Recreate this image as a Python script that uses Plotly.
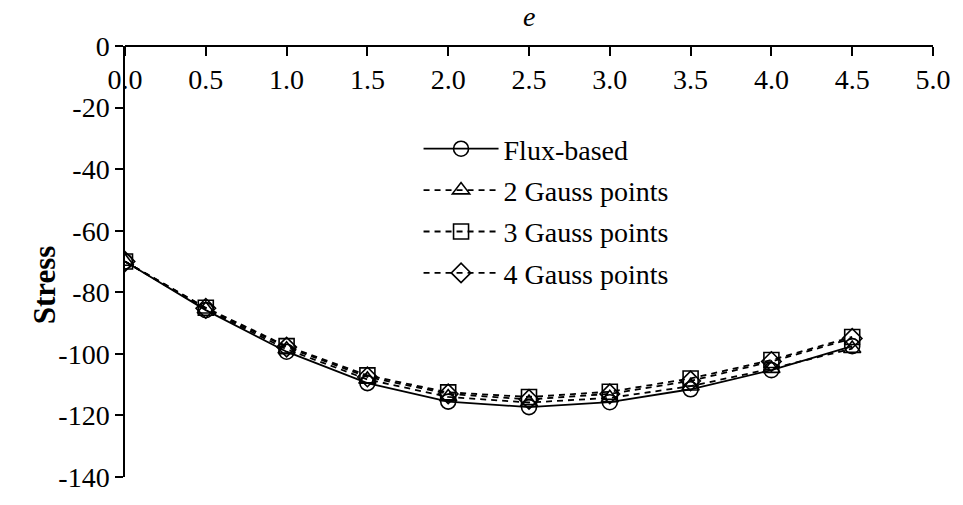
import plotly.graph_objects as go

# Eccentricity values and computed stresses
e_vals = [0.0, 0.5, 1.0, 1.5, 2.0, 2.5, 3.0, 3.5, 4.0, 4.5]
flux_based = [-70.0, -85.8, -99.3, -109.5, -115.5, -117.3, -115.7, -111.5, -105.3, -97.5]
gauss_2 = [-70.0, -85.5, -98.5, -108.3, -114.0, -115.8, -114.3, -110.5, -104.8, -98.3]
gauss_3 = [-70.0, -85.0, -97.5, -107.0, -112.5, -114.0, -112.3, -108.0, -102.0, -94.5]
gauss_4 = [-70.0, -85.2, -97.8, -107.5, -113.0, -114.8, -113.0, -108.8, -102.5, -95.0]

x_ticks = [0.0, 0.5, 1.0, 1.5, 2.0, 2.5, 3.0, 3.5, 4.0, 4.5, 5.0]
y_ticks = [0, -20, -40, -60, -80, -100, -120, -140]

FONT = "Liberation Serif, Times New Roman, serif"
FS = 28
series = [
    ("Flux-based", flux_based, "circle-open", "solid"),
    ("2 Gauss points", gauss_2, "triangle-up-open", "6px,5px"),
    ("3 Gauss points", gauss_3, "square-open", "6px,5px"),
    ("4 Gauss points", gauss_4, "diamond-open", "6px,5px"),
]

fig = go.Figure()
for i, (name, vals, sym, dash) in enumerate(series):
    fig.add_trace(go.Scatter(
        x=e_vals, y=vals, name=name, mode="lines+markers",
        legendgroup=f"g{i}",
        line=dict(color="black", width=1.8, dash=dash),
        marker=dict(symbol=sym, size=15, color="black",
                    line=dict(color="black", width=1.6)),
    ))

W, H = 963, 505
l, r, t, b = 125, 26, 46, 17
pw, ph = W - l - r, H - t - b

fig.update_layout(
    width=W, height=H,
    margin=dict(l=l, r=r, t=t, b=b),
    paper_bgcolor="white", plot_bgcolor="white",
    font=dict(family=FONT, size=FS, color="black"),
    showlegend=True,
    legend=dict(x=(420 - l) / pw, y=1 - (126 - t) / ph,
                xanchor="left", yanchor="top",
                bgcolor="rgba(0,0,0,0)", tracegroupgap=2,
                traceorder="grouped", itemwidth=75,
                font=dict(family=FONT, size=FS, color="black")),
    # x axis runs along the top edge (stress = 0), labels hanging below it
    xaxis=dict(range=[0, 5], tickvals=x_ticks,
               ticktext=[f"{v:.1f}" for v in x_ticks],
               side="bottom", anchor="free", position=1,
               ticks="outside", ticklen=9, tickcolor="black", tickwidth=1.5,
               showline=True, linecolor="black", linewidth=1.5,
               showgrid=False, zeroline=False),
    yaxis=dict(range=[-140, 0], tickvals=y_ticks,
               ticktext=[str(v) for v in y_ticks],
               ticks="outside", ticklen=8, tickcolor="black", tickwidth=1.5,
               showline=True, linecolor="black", linewidth=1.5,
               showgrid=False, zeroline=False),
    annotations=[
        dict(text="<i>e</i>", xref="paper", yref="paper",
             x=0.5, y=(H - b - 16) / ph, xanchor="center", yanchor="middle",
             showarrow=False, font=dict(family=FONT, size=FS)),
        dict(text="<b>Stress</b>", xref="paper", yref="paper",
             x=(45 - l) / pw, y=(H - b - 291) / ph,
             xanchor="center", yanchor="middle", textangle=-90,
             showarrow=False, font=dict(family=FONT, size=31)),
    ],
)

fig.write_html("out.html")
